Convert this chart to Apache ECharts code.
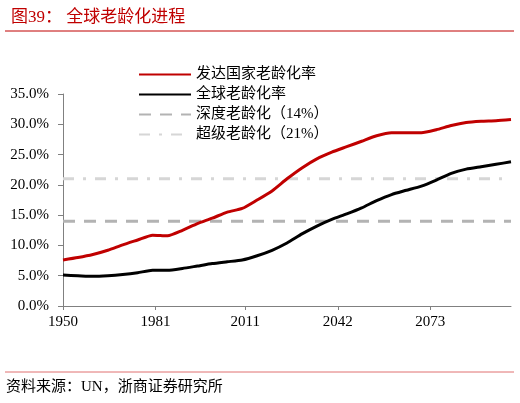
<!DOCTYPE html>
<html>
<head>
<meta charset="utf-8">
<script src="https://cdn.jsdelivr.net/npm/echarts@6/dist/echarts.min.js"></script>
<style>
    html, body { margin: 0; padding: 0; background: #fff; }
    #chart { width: 520px; height: 403px; }
</style>
</head>
<body>
<div id="chart"></div>
<script>
    // 年份（每5年一个点）
    var years = [1950, 1955, 1960, 1965, 1970, 1975, 1980, 1985, 1990, 1995,
        2000, 2005, 2010, 2015, 2020, 2025, 2030, 2035, 2040, 2045,
        2050, 2055, 2060, 2065, 2070, 2075, 2080, 2085, 2090, 2095, 2100];
    // 发达国家老龄化率 (%)
    var developed = [7.6, 8.0, 8.5, 9.2, 10.1, 10.9, 11.7, 11.6, 12.5, 13.6,
        14.5, 15.5, 16.1, 17.5, 19.0, 21.0, 22.8, 24.3, 25.4, 26.3,
        27.2, 28.1, 28.6, 28.6, 28.6, 29.1, 29.8, 30.3, 30.5, 30.6, 30.8];
    // 全球老龄化率 (%)
    var world = [5.1, 5.0, 4.9, 5.0, 5.2, 5.5, 5.9, 5.9, 6.2, 6.6,
        7.0, 7.3, 7.6, 8.3, 9.2, 10.4, 11.9, 13.2, 14.3, 15.2,
        16.2, 17.4, 18.4, 19.1, 19.8, 20.8, 21.9, 22.6, 23.0, 23.4, 23.8];
    // 阈值线
    var deepLevel = 14;
    var superLevel = 21;
    var xLabels = [1950, 1981, 2011, 2042, 2073];
    var names = ['发达国家老龄化率', '全球老龄化率', '深度老龄化（14%）', '超级老龄化（21%）'];

    function pairs(vals) {
        return years.map(function (y, i) { return [y, vals[i]]; });
    }
    function flat(v) {
        return [[years[0], v], [years[years.length - 1], v]];
    }

    var font = '"Liberation Serif", "Noto Sans CJK SC", serif';
    var chart = echarts.init(document.getElementById('chart'));

    var options = {
        animation: false,
        textStyle: { fontFamily: font },
        title: {
            text: '图39： 全球老龄化进程',
            left: 6,
            top: 4,
            textStyle: { color: '#c00000', fontSize: 17, fontWeight: 'normal', fontFamily: font }
        },
        graphic: [
            { type: 'line', shape: { x1: 5, y1: 31, x2: 514, y2: 31 }, style: { stroke: '#c00000', lineWidth: 1 } },
            { type: 'line', shape: { x1: 5, y1: 372, x2: 514, y2: 372 }, style: { stroke: '#e07070', lineWidth: 1 } },
            { type: 'text', left: 6, top: 380, style: { text: '资料来源：UN，浙商证券研究所', fill: '#000', font: '15px ' + font } }
        ],
        legend: {
            orient: 'vertical',
            left: 133,
            top: 62,
            itemWidth: 52,
            itemHeight: 14,
            itemGap: 5,
            itemStyle: { opacity: 0 },
            textStyle: { fontSize: 15, color: '#000', fontFamily: font },
            data: names
        },
        grid: { left: 63, right: 9, top: 94, bottom: 97 },
        xAxis: {
            type: 'value',
            min: 1950,
            max: 2100,
            splitLine: { show: false },
            axisLine: { lineStyle: { color: '#808080' } },
            axisTick: { show: true, length: 4, customValues: xLabels, lineStyle: { color: '#808080' } },
            axisLabel: {
                customValues: xLabels, color: '#000', fontSize: 15, margin: 9, fontFamily: font,
                formatter: function (v) { return String(v); }
            }
        },
        yAxis: {
            type: 'value',
            min: 0,
            max: 35,
            interval: 5,
            splitLine: { show: false },
            axisLine: { show: true, lineStyle: { color: '#808080' } },
            axisTick: { show: true, length: 5, lineStyle: { color: '#808080' } },
            axisLabel: {
                color: '#000', fontSize: 15, margin: 14, fontFamily: font,
                formatter: function (v) { return v.toFixed(1) + '%'; }
            }
        },
        series: [{
            name: names[0], type: 'line', data: pairs(developed), smooth: 0.2, symbol: 'none',
            lineStyle: { color: '#c00000', width: 3 }, itemStyle: { color: '#c00000' }, z: 4
        }, {
            name: names[1], type: 'line', data: pairs(world), smooth: 0.2, symbol: 'none',
            lineStyle: { color: '#000000', width: 3 }, itemStyle: { color: '#000000' }, z: 4
        }, {
            name: names[2], type: 'line', data: flat(deepLevel), symbol: 'none',
            lineStyle: { color: '#b3b3b3', width: 3, type: [12, 9] }, itemStyle: { color: '#b3b3b3' }, z: 2
        }, {
            name: names[3], type: 'line', data: flat(superLevel), symbol: 'none',
            lineStyle: { color: '#d6d6d6', width: 3, type: [11, 9, 3, 9] }, itemStyle: { color: '#d6d6d6' }, z: 2
        }]
    };

    chart.setOption(options);
</script>
</body>
</html>
